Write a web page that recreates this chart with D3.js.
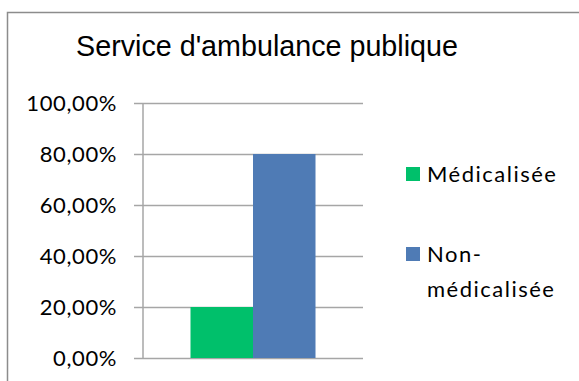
<!DOCTYPE html>
<html>
<head>
<meta charset="utf-8">
<script src="https://cdn.jsdelivr.net/npm/d3@7"></script>
<style>
  body { margin: 0; background: #fff; }
  svg { display: block; }
  .tick text { font-family: Lato, "Open Sans", sans-serif; font-size: 22px; letter-spacing: 0.6px; fill: #000; }
  .legend text { font-family: Lato, "Open Sans", sans-serif; font-size: 22px; letter-spacing: 1.5px; fill: #000; }
</style>
</head>
<body>
<div id="chart"></div>
<script>
// Chart data
const categories = ['Service d\'ambulance publique'];
const seriesNames = ['Médicalisée', 'Non-médicalisée'];
const seriesValues = [0.20, 0.80];
const seriesColors = ['#00c06b', '#4f7bb5'];
const yTicks = [0, 0.2, 0.4, 0.6, 0.8, 1.0];
const tickLabels = ['0,00%', '20,00%', '40,00%', '60,00%', '80,00%', '100,00%'];

const W = 579, H = 381;
const margin = { top: 103, right: 216, bottom: 23, left: 143 };
const width = W - margin.left - margin.right;
const height = H - margin.top - margin.bottom;

const svg = d3.select('#chart')
  .append('svg')
  .attr('width', W)
  .attr('height', H);

// Outer chart frame (cropped at right and bottom)
svg.append('path')
  .attr('d', `M7.5,${H} V12.5 H${W}`)
  .attr('fill', 'none')
  .attr('stroke', '#8c8c8c')
  .attr('stroke-width', 1.5);

// Title
svg.append('text')
  .attr('x', 267)
  .attr('y', 56)
  .attr('text-anchor', 'middle')
  .style('font-family', '"Liberation Sans", Arial, sans-serif')
  .style('font-size', '28.7px')
  .text(categories[0]);

const g = svg.append('g')
  .attr('transform', `translate(${margin.left},${margin.top})`);

const x0 = d3.scaleBand()
  .domain(categories)
  .range([0, width])
  .paddingInner(0)
  .paddingOuter(0.38);

const x1 = d3.scaleBand()
  .domain(seriesNames)
  .range([0, x0.bandwidth()]);

const y = d3.scaleLinear()
  .domain([0, 1])
  .range([height, 0]);

// Gridlines with tick labels
const yAxis = d3.axisLeft(y)
  .tickValues(yTicks)
  .tickSize(-width)
  .tickPadding(0)
  .tickFormat((d, i) => tickLabels[i]);

const ay = g.append('g').call(yAxis);
ay.select('.domain').remove();
ay.selectAll('.tick line')
  .attr('x1', -9)
  .attr('stroke', '#a6a6a6')
  .attr('stroke-width', 1.5);
ay.selectAll('.tick text')
  .attr('x', -26)
  .attr('dy', '0.36em');

// Vertical axis line
g.append('line')
  .attr('x1', 0).attr('x2', 0)
  .attr('y1', 0).attr('y2', height)
  .attr('stroke', '#a6a6a6')
  .attr('stroke-width', 1.5);

// Bars
g.selectAll('.bar')
  .data(seriesNames.map((s, i) => ({ name: s, value: seriesValues[i], color: seriesColors[i] })))
  .enter().append('rect')
  .attr('class', 'bar')
  .attr('x', d => x0(categories[0]) + x1(d.name))
  .attr('width', x1.bandwidth())
  .attr('y', d => y(d.value))
  .attr('height', d => height - y(d.value))
  .attr('fill', d => d.color);

// Legend
const legend = svg.append('g').attr('class', 'legend');
const legendLines = [['Médicalisée'], ['Non-', 'médicalisée']];
const legendY = [174, 254];
legendLines.forEach((lines, i) => {
  legend.append('rect')
    .attr('x', 406)
    .attr('y', legendY[i] - 7)
    .attr('width', 14)
    .attr('height', 14)
    .attr('fill', seriesColors[i]);
  lines.forEach((t, j) => {
    legend.append('text')
      .attr('x', 427)
      .attr('y', legendY[i] + 8 + j * 35)
      .text(t);
  });
});
</script>
</body>
</html>
